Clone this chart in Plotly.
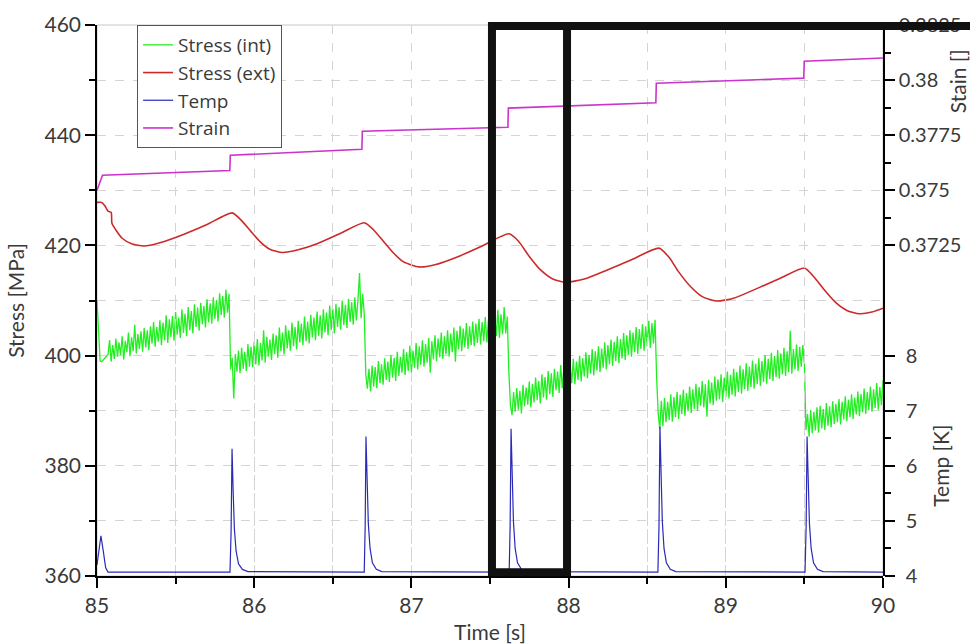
import plotly.graph_objects as go

# ---------------- data ----------------
# Stress (int): sampled every 0.01 s starting at 85.00 s
stress_int_t0 = 85.0
stress_int_dt = 0.01
stress_int = [
    410.0, 404.5, 399.0, 398.9, 399.2, 399.5, 399.8, 400.2, 402.8, 398.9,
    401.9, 399.4, 403.1, 399.8, 402.4, 400.1, 403.5, 399.3, 402.7, 400.6,
    404.2, 399.9, 403.3, 400.8, 405.6, 400.4, 403.9, 401.2, 404.4, 400.7,
    405.0, 401.5, 404.6, 401.0, 405.3, 402.2, 406.1, 401.6, 405.2, 402.5,
    406.4, 401.9, 406.0, 402.8, 407.3, 402.3, 406.6, 403.4, 407.2, 402.7,
    407.9, 403.8, 406.9, 403.2, 408.4, 404.1, 407.6, 403.5, 408.8, 404.6,
    408.1, 404.0, 409.3, 405.2, 408.7, 404.5, 409.6, 405.7, 409.0, 405.1,
    410.2, 406.0, 409.5, 405.8, 410.6, 406.7, 410.1, 406.2, 411.3, 407.4,
    410.8, 406.9, 412.0, 407.8, 411.2, 397.5, 399.6, 392.2, 400.3, 397.1,
    400.9, 396.8, 401.4, 397.6, 400.7, 397.2, 402.1, 398.0, 401.6, 397.9,
    402.5, 398.4, 403.0, 398.2, 402.3, 399.1, 404.6, 398.7, 403.4, 399.8,
    402.9, 399.2, 404.0, 400.3, 403.7, 399.6, 405.1, 400.8, 404.2, 400.2,
    405.5, 401.3, 404.6, 400.9, 406.0, 401.7, 405.2, 401.1, 406.3, 402.4,
    405.8, 401.9, 407.1, 402.6, 406.2, 402.2, 407.4, 403.3, 406.9, 402.8,
    408.0, 403.6, 407.3, 403.1, 408.4, 404.2, 407.8, 403.7, 409.1, 404.6,
    408.5, 404.0, 409.4, 405.2, 408.8, 404.7, 410.0, 405.5, 409.2, 405.0,
    410.3, 406.1, 409.7, 405.6, 410.6, 406.4, 410.1, 415.0, 406.8, 411.2,
    407.6, 396.5, 394.0, 397.6, 393.5, 398.2, 394.4, 397.9, 394.1, 399.0,
    395.0, 398.4, 394.7, 399.5, 395.6, 398.9, 395.2, 400.1, 396.0, 399.6,
    395.4, 400.7, 396.3, 399.8, 396.9, 401.2, 396.5, 400.6, 397.2, 401.8,
    397.0, 400.9, 397.8, 402.3, 397.5, 401.7, 398.3, 402.8, 398.0, 402.1,
    398.7, 403.2, 396.9, 402.6, 399.3, 403.7, 399.0, 403.1, 399.7, 404.2,
    399.4, 403.5, 400.2, 404.6, 399.8, 404.0, 400.6, 405.1, 398.9, 404.5,
    401.1, 405.4, 400.8, 404.9, 401.5, 405.9, 401.2, 405.3, 401.9, 406.2,
    401.7, 405.8, 402.3, 406.7, 402.0, 406.1, 402.6, 407.0, 402.4, 406.5,
    403.1, 407.6, 402.9, 407.2, 403.5, 408.3, 403.2, 407.5, 403.9, 408.8,
    404.0, 407.1, 397.0, 391.0, 389.2, 393.4, 389.8, 394.1, 390.2, 393.6,
    389.5, 394.7, 390.8, 394.2, 391.1, 395.3, 390.6, 394.9, 391.5, 396.0,
    391.9, 395.4, 391.3, 396.6, 392.4, 396.1, 392.0, 397.2, 393.0, 396.8,
    392.5, 397.6, 393.7, 397.1, 393.2, 398.3, 394.1, 397.7, 393.9, 398.8,
    394.6, 398.2, 395.0, 399.4, 394.8, 398.9, 395.6, 400.0, 395.3, 399.5,
    396.2, 400.6, 395.9, 400.1, 396.7, 401.2, 396.4, 400.8, 397.3, 401.7,
    397.0, 401.3, 397.8, 402.4, 397.5, 401.9, 398.4, 402.9, 398.1, 402.5,
    399.0, 403.5, 398.6, 403.0, 399.5, 404.1, 399.2, 403.7, 400.1, 404.6,
    399.8, 404.2, 400.6, 405.2, 400.3, 404.8, 401.2, 405.7, 400.9, 405.3,
    401.7, 406.3, 401.4, 405.9, 402.2, 406.5, 396.0, 389.5, 386.6, 391.8,
    387.2, 392.3, 387.9, 391.6, 388.3, 393.0, 388.0, 392.5, 388.8, 393.4,
    388.5, 392.9, 389.4, 393.8, 389.1, 393.2, 389.9, 394.4, 389.6, 393.9,
    390.3, 394.9, 390.0, 394.3, 390.9, 395.4, 390.6, 394.8, 388.9, 395.6,
    391.3, 395.1, 391.0, 396.2, 391.8, 395.7, 392.1, 396.6, 391.6, 396.0,
    392.5, 397.1, 392.2, 396.5, 392.9, 397.6, 392.6, 397.0, 393.4, 398.2,
    393.1, 397.5, 393.9, 398.6, 393.6, 398.0, 394.3, 399.1, 394.0, 398.5,
    394.8, 399.5, 394.5, 399.0, 395.2, 400.1, 394.9, 399.4, 395.7, 400.5,
    395.4, 399.9, 396.1, 401.0, 395.8, 400.4, 396.6, 401.4, 396.3, 400.8,
    397.0, 404.5, 396.7, 401.2, 397.5, 402.0, 397.2, 401.6, 398.0, 401.9,
    398.5, 386.5, 389.4, 385.3, 390.1, 385.9, 389.8, 386.4, 390.6, 386.0,
    390.9, 386.8, 390.3, 386.5, 391.4, 387.3, 390.8, 387.0, 391.7, 387.6,
    391.2, 387.9, 392.1, 387.5, 391.6, 388.4, 392.6, 388.1, 392.0, 388.8,
    393.0, 388.5, 392.4, 389.3, 393.5, 389.0, 393.0, 389.7, 394.0, 389.4,
    393.4, 390.1, 394.4, 389.8, 393.9, 390.5, 395.0, 390.2, 394.3, 391.0,
    395.5,
]

# Stress (ext)
stress_ext_t = [
    85.00, 85.03, 85.05, 85.07, 85.09, 85.095, 85.12, 85.16, 85.22, 85.30,
    85.40, 85.55, 85.70, 85.86, 85.92, 85.98, 86.04, 86.10, 86.18, 86.28,
    86.40, 86.55, 86.70, 86.76, 86.82, 86.88, 86.95, 87.05, 87.15, 87.30,
    87.45, 87.62, 87.68, 87.75, 87.82, 87.90, 87.98, 88.10, 88.25, 88.40,
    88.575, 88.64, 88.70, 88.78, 88.85, 88.94, 89.05, 89.20, 89.35, 89.50,
    89.56, 89.63, 89.70, 89.77, 89.85, 89.93, 90.00,
]
stress_ext = [
    427.8, 427.8, 427.2, 426.2, 426.0, 424.0, 422.8, 421.3, 420.3, 419.9,
    420.5, 422.0, 423.8, 425.9, 424.5, 422.5, 420.6, 419.3, 418.7, 419.2,
    420.3, 422.2, 424.1, 422.8, 420.8, 418.8, 417.0, 416.1, 416.5, 418.0,
    419.9, 422.1, 420.8, 418.0, 415.6, 413.9, 413.3, 413.9, 415.6, 417.4,
    419.5, 417.8, 415.2, 412.4, 410.7, 409.9, 410.4, 412.2, 414.1, 415.9,
    414.3, 411.8, 409.6, 408.2, 407.6, 407.9, 408.6,
]

# Temp
temp_t = [
    85.000, 85.012, 85.025, 85.040, 85.055, 85.070,
    85.846, 85.853, 85.859, 85.866, 85.874, 85.885, 85.900, 85.925, 85.960,
    86.700, 86.706, 86.711, 86.718, 86.726, 86.737, 86.752, 86.777, 86.812,
    87.622, 87.628, 87.634, 87.641, 87.649, 87.660, 87.675, 87.700, 87.735,
    88.568, 88.575, 88.581, 88.588, 88.596, 88.607, 88.622, 88.647, 88.682,
    89.504, 89.511, 89.517, 89.524, 89.532, 89.543, 89.558, 89.583, 89.618,
    90.000,
]
temp = [
    4.20, 4.45, 4.73, 4.45, 4.15, 4.07,
    4.07, 4.80, 6.31, 5.55, 4.85, 4.45, 4.22, 4.12, 4.08,
    4.07, 4.90, 6.53, 5.70, 4.95, 4.50, 4.24, 4.12, 4.08,
    4.07, 4.90, 6.67, 5.80, 5.00, 4.50, 4.24, 4.12, 4.08,
    4.07, 4.90, 6.71, 5.80, 5.00, 4.50, 4.24, 4.12, 4.08,
    4.07, 4.90, 6.53, 5.70, 4.95, 4.50, 4.24, 4.12, 4.08,
    4.07,
]

# Strain
strain_t = [85.00, 85.035, 85.845, 85.848, 86.685, 86.688, 87.614, 87.617,
            88.555, 88.558, 89.496, 89.499, 90.00]
strain = [0.3750, 0.37568, 0.3759, 0.37659, 0.37686, 0.37768, 0.37786, 0.37873,
          0.37897, 0.37986, 0.38009, 0.38086, 0.3810]

x_ticks = [85, 86, 87, 88, 89, 90]
stress_ticks = [360, 380, 400, 420, 440, 460]
strain_ticks = [0.3725, 0.375, 0.3775, 0.38, 0.3825]
strain_ticktext = ["0.3725", "0.375", "0.3775", "0.38", "0.3825"]
strain_minor = [0.37375, 0.37625, 0.37875, 0.38125]
temp_ticks = [4, 5, 6, 7, 8]
temp_minor = [4.5, 5.5, 6.5, 7.5]

# ---------------- figure ----------------
FONT = "Lato"
LEGFONT = "Open Sans"
TXT = "#3a3a3a"
GRID = "#d4d4d4"
FS = 21

fig = go.Figure()
fig.add_trace(go.Scatter(x0=stress_int_t0, dx=stress_int_dt, y=stress_int, mode="lines",
                         name="Stress (int)", line=dict(color="#22ee22", width=1.3),
                         xaxis="x", yaxis="y"))
fig.add_trace(go.Scatter(x=stress_ext_t, y=stress_ext, mode="lines", name="Stress (ext)",
                         line=dict(color="#cc2a2a", width=1.6, shape="spline", smoothing=0.6),
                         xaxis="x", yaxis="y"))
fig.add_trace(go.Scatter(x=temp_t, y=temp, mode="lines", name="Temp",
                         line=dict(color="#2a2ab8", width=1.2), xaxis="x", yaxis="y3"))
fig.add_trace(go.Scatter(x=strain_t, y=strain, mode="lines", name="Strain",
                         line=dict(color="#cc33cc", width=1.6), xaxis="x", yaxis="y2"))

tickfont = dict(family=FONT, size=FS, color=TXT)
rtickfont = dict(family=FONT, size=20, color=TXT)
tk = dict(tickcolor="black", tickwidth=1.5)

fig.update_layout(
    width=970, height=644,
    margin=dict(l=97, r=87, t=25, b=68, autoexpand=False),
    paper_bgcolor="white", plot_bgcolor="rgba(0,0,0,0)",
    font=dict(family=FONT, size=FS, color=TXT),
    showlegend=True,
    legend=dict(x=0.051, y=1.0, xanchor="left", yanchor="top",
                bgcolor="white", bordercolor="#555555", borderwidth=1,
                font=dict(family=LEGFONT, size=19, color=TXT),
                tracegroupgap=0, itemwidth=30),
    xaxis=dict(range=[85, 90], tickvals=x_ticks, ticks="outside", ticklen=10, **tk,
               showline=True, linecolor="black", linewidth=1.5, mirror=False,
               showgrid=True, gridcolor=GRID, griddash="dash", gridwidth=1,
               zeroline=False, tickfont=tickfont, automargin=False,
               title=dict(text="Time [s]", font=dict(family=FONT, size=FS, color=TXT), standoff=10),
               minor=dict(dtick=0.5, tick0=85, ticks="outside", ticklen=6, **tk,
                          showgrid=True, gridcolor=GRID, griddash="dash")),
    xaxis2=dict(overlaying="x", anchor="y", side="bottom", range=[85, 90], tickvals=x_ticks,
                ticks="inside", ticklen=10, **tk, automargin=False,
                showticklabels=False, showline=False, showgrid=False, zeroline=False,
                minor=dict(dtick=0.5, tick0=85, ticks="inside", ticklen=6, **tk, showgrid=False)),
    yaxis=dict(range=[360, 460], tickvals=stress_ticks, ticks="outside", ticklen=10, **tk,
               showline=True, linecolor="black", linewidth=1.5,
               showgrid=True, gridcolor=GRID, griddash="dash",
               zeroline=False, tickfont=tickfont, anchor="x", automargin=False,
               title=dict(text="Stress [MPa]", font=dict(family=FONT, size=FS, color=TXT), standoff=14),
               minor=dict(dtick=10, tick0=360, ticks="outside", ticklen=6, **tk,
                          showgrid=True, gridcolor=GRID, griddash="dash")),
    yaxis4=dict(overlaying="y", anchor="x", side="left", range=[360, 460],
                tickvals=stress_ticks, ticks="inside", ticklen=10, **tk, automargin=False,
                showticklabels=False, showline=False, showgrid=False, zeroline=False,
                minor=dict(dtick=10, tick0=360, ticks="inside", ticklen=6, **tk, showgrid=False)),
    yaxis2=dict(domain=[0.5, 1.0], anchor="x", side="right", range=[0.37, 0.3825],
                tickvals=strain_ticks, ticktext=strain_ticktext, ticks="outside", ticklen=10, **tk,
                showline=True, linecolor="black", linewidth=1.5, automargin=False,
                showgrid=False, zeroline=False, tickfont=rtickfont, ticklabelstandoff=0,
                minor=dict(tickvals=strain_minor, ticks="outside", ticklen=6, **tk, showgrid=False)),
    yaxis5=dict(overlaying="y2", anchor="x", side="right", range=[0.37, 0.3825],
                tickvals=strain_ticks, ticks="inside", ticklen=10, **tk, automargin=False,
                showticklabels=False, showline=False, showgrid=False, zeroline=False,
                minor=dict(tickvals=strain_minor, ticks="inside", ticklen=6, **tk, showgrid=False)),
    yaxis3=dict(domain=[0.0, 0.5], anchor="x", side="right", range=[4, 9],
                tickvals=temp_ticks, ticks="outside", ticklen=10, **tk,
                showline=True, linecolor="black", linewidth=1.5, automargin=False,
                showgrid=False, zeroline=False, tickfont=rtickfont, ticklabelstandoff=7,
                minor=dict(tickvals=temp_minor, ticks="outside", ticklen=6, **tk, showgrid=False)),
    yaxis6=dict(overlaying="y3", anchor="x", side="right", range=[4, 9],
                tickvals=temp_ticks, ticks="inside", ticklen=10, **tk, automargin=False,
                showticklabels=False, showline=False, showgrid=False, zeroline=False,
                minor=dict(tickvals=temp_minor, ticks="inside", ticklen=6, **tk, showgrid=False)),
)

# right-hand axis titles (placed off-centre as in the original)
fig.add_annotation(text="Temp [K]", xref="paper", yref="paper", x=1.0, y=0.20,
                   xanchor="center", yanchor="middle",
                   xshift=58, showarrow=False, textangle=-90,
                   font=dict(family=FONT, size=FS, color=TXT))
fig.add_annotation(text="Stain []", xref="paper", yref="paper", x=1.0, y=0.898,
                   xanchor="center", yanchor="middle",
                   xshift=74, showarrow=False, textangle=-90,
                   font=dict(family=FONT, size=FS, color=TXT))

# light plot frame (top / right)
fig.add_shape(type="rect", xref="paper", yref="paper", x0=0, x1=1, y0=0, y1=1,
              line=dict(color="#c8c8c8", width=1), layer="below")

# thick black highlight box drawn over the chart
fig.add_shape(type="rect", xref="paper", yref="paper", x0=0.5025, x1=0.5980, y0=0.007, y1=0.998,
              line=dict(color="#111111", width=8), layer="above")
fig.add_shape(type="line", xref="paper", yref="paper", x0=0.5980, x1=1.13, y0=0.998, y1=0.998,
              line=dict(color="#111111", width=8), layer="above")

# remove the default page margin so the 970x644 figure fills the window exactly
fig.write_html("out.html",
               config={"displayModeBar": False},
               post_script="document.body.style.margin='0';document.body.style.overflow='hidden';")
